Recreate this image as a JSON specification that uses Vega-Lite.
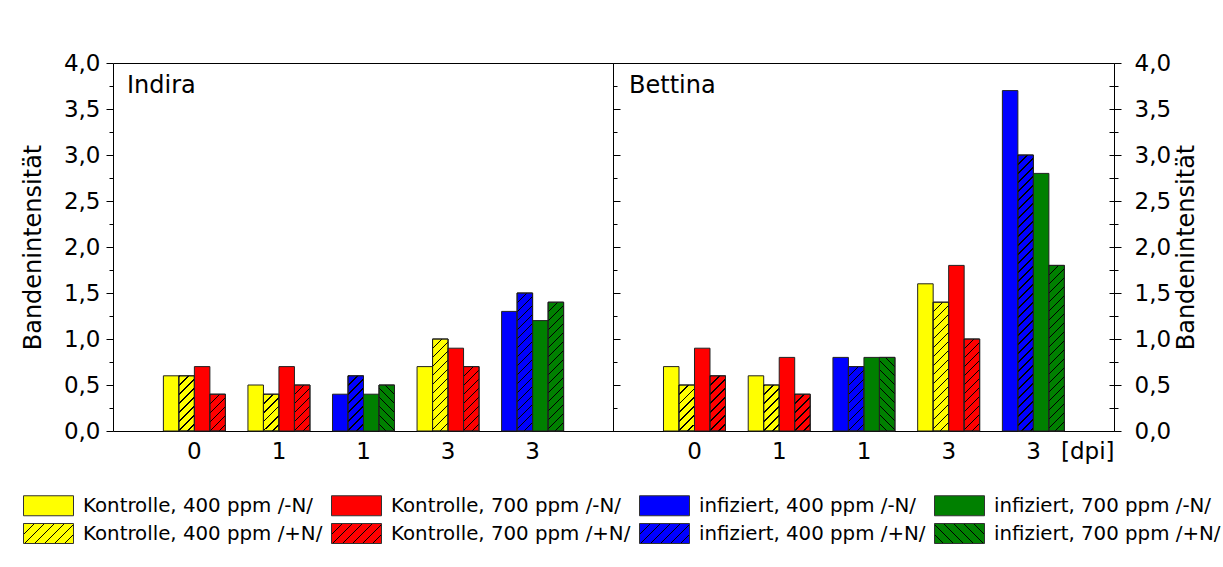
{
  "$schema": "https://vega.github.io/schema/vega-lite/v6.json",
  "background": "white",
  "padding": {"left": 20, "top": 51, "right": 0, "bottom": 0},
  "spacing": 0,
  "bounds": "flush",
  "config": {
    "font": "DejaVu Sans",
    "view": {"stroke": "#000", "strokeWidth": 1},
    "axis": {"labelFontSize": 23, "titleFontSize": 24, "titleFontWeight": "normal", "labelColor": "#000", "titleColor": "#000", "tickColor": "#000", "domainColor": "#000", "grid": false, "labelOverlap": false, "labelFlush": false},
    "title": {"fontSize": 24, "fontWeight": "normal", "color": "#000"}
  },
  "params": [
    {"name": "hatchStops", "value": [
      {"offset":0,"color":"#000"},{"offset":0.0042,"color":"#000"},{"offset":0.0042,"color":"rgba(0,0,0,0)"},{"offset":0.0278,"color":"rgba(0,0,0,0)"},
      {"offset":0.0278,"color":"#000"},{"offset":0.032,"color":"#000"},{"offset":0.032,"color":"rgba(0,0,0,0)"},{"offset":0.0556,"color":"rgba(0,0,0,0)"},
      {"offset":0.0556,"color":"#000"},{"offset":0.0598,"color":"#000"},{"offset":0.0598,"color":"rgba(0,0,0,0)"},{"offset":0.0833,"color":"rgba(0,0,0,0)"},
      {"offset":0.0833,"color":"#000"},{"offset":0.0875,"color":"#000"},{"offset":0.0875,"color":"rgba(0,0,0,0)"},{"offset":0.1111,"color":"rgba(0,0,0,0)"},
      {"offset":0.1111,"color":"#000"},{"offset":0.1153,"color":"#000"},{"offset":0.1153,"color":"rgba(0,0,0,0)"},{"offset":0.1389,"color":"rgba(0,0,0,0)"},
      {"offset":0.1389,"color":"#000"},{"offset":0.1431,"color":"#000"},{"offset":0.1431,"color":"rgba(0,0,0,0)"},{"offset":0.1667,"color":"rgba(0,0,0,0)"},
      {"offset":0.1667,"color":"#000"},{"offset":0.1709,"color":"#000"},{"offset":0.1709,"color":"rgba(0,0,0,0)"},{"offset":0.1944,"color":"rgba(0,0,0,0)"},
      {"offset":0.1944,"color":"#000"},{"offset":0.1986,"color":"#000"},{"offset":0.1986,"color":"rgba(0,0,0,0)"},{"offset":0.2222,"color":"rgba(0,0,0,0)"},
      {"offset":0.2222,"color":"#000"},{"offset":0.2264,"color":"#000"},{"offset":0.2264,"color":"rgba(0,0,0,0)"},{"offset":0.25,"color":"rgba(0,0,0,0)"},
      {"offset":0.25,"color":"#000"},{"offset":0.2542,"color":"#000"},{"offset":0.2542,"color":"rgba(0,0,0,0)"},{"offset":0.2778,"color":"rgba(0,0,0,0)"},
      {"offset":0.2778,"color":"#000"},{"offset":0.282,"color":"#000"},{"offset":0.282,"color":"rgba(0,0,0,0)"},{"offset":0.3056,"color":"rgba(0,0,0,0)"},
      {"offset":0.3056,"color":"#000"},{"offset":0.3098,"color":"#000"},{"offset":0.3098,"color":"rgba(0,0,0,0)"},{"offset":0.3333,"color":"rgba(0,0,0,0)"},
      {"offset":0.3333,"color":"#000"},{"offset":0.3375,"color":"#000"},{"offset":0.3375,"color":"rgba(0,0,0,0)"},{"offset":0.3611,"color":"rgba(0,0,0,0)"},
      {"offset":0.3611,"color":"#000"},{"offset":0.3653,"color":"#000"},{"offset":0.3653,"color":"rgba(0,0,0,0)"},{"offset":0.3889,"color":"rgba(0,0,0,0)"},
      {"offset":0.3889,"color":"#000"},{"offset":0.3931,"color":"#000"},{"offset":0.3931,"color":"rgba(0,0,0,0)"},{"offset":0.4167,"color":"rgba(0,0,0,0)"},
      {"offset":0.4167,"color":"#000"},{"offset":0.4209,"color":"#000"},{"offset":0.4209,"color":"rgba(0,0,0,0)"},{"offset":0.4444,"color":"rgba(0,0,0,0)"},
      {"offset":0.4444,"color":"#000"},{"offset":0.4486,"color":"#000"},{"offset":0.4486,"color":"rgba(0,0,0,0)"},{"offset":0.4722,"color":"rgba(0,0,0,0)"},
      {"offset":0.4722,"color":"#000"},{"offset":0.4764,"color":"#000"},{"offset":0.4764,"color":"rgba(0,0,0,0)"},{"offset":0.5,"color":"rgba(0,0,0,0)"},
      {"offset":0.5,"color":"#000"},{"offset":0.5042,"color":"#000"},{"offset":0.5042,"color":"rgba(0,0,0,0)"},{"offset":0.5278,"color":"rgba(0,0,0,0)"},
      {"offset":0.5278,"color":"#000"},{"offset":0.532,"color":"#000"},{"offset":0.532,"color":"rgba(0,0,0,0)"},{"offset":0.5556,"color":"rgba(0,0,0,0)"},
      {"offset":0.5556,"color":"#000"},{"offset":0.5598,"color":"#000"},{"offset":0.5598,"color":"rgba(0,0,0,0)"},{"offset":0.5833,"color":"rgba(0,0,0,0)"},
      {"offset":0.5833,"color":"#000"},{"offset":0.5875,"color":"#000"},{"offset":0.5875,"color":"rgba(0,0,0,0)"},{"offset":0.6111,"color":"rgba(0,0,0,0)"},
      {"offset":0.6111,"color":"#000"},{"offset":0.6153,"color":"#000"},{"offset":0.6153,"color":"rgba(0,0,0,0)"},{"offset":0.6389,"color":"rgba(0,0,0,0)"},
      {"offset":0.6389,"color":"#000"},{"offset":0.6431,"color":"#000"},{"offset":0.6431,"color":"rgba(0,0,0,0)"},{"offset":0.6667,"color":"rgba(0,0,0,0)"},
      {"offset":0.6667,"color":"#000"},{"offset":0.6709,"color":"#000"},{"offset":0.6709,"color":"rgba(0,0,0,0)"},{"offset":0.6944,"color":"rgba(0,0,0,0)"},
      {"offset":0.6944,"color":"#000"},{"offset":0.6986,"color":"#000"},{"offset":0.6986,"color":"rgba(0,0,0,0)"},{"offset":0.7222,"color":"rgba(0,0,0,0)"},
      {"offset":0.7222,"color":"#000"},{"offset":0.7264,"color":"#000"},{"offset":0.7264,"color":"rgba(0,0,0,0)"},{"offset":0.75,"color":"rgba(0,0,0,0)"},
      {"offset":0.75,"color":"#000"},{"offset":0.7542,"color":"#000"},{"offset":0.7542,"color":"rgba(0,0,0,0)"},{"offset":0.7778,"color":"rgba(0,0,0,0)"},
      {"offset":0.7778,"color":"#000"},{"offset":0.782,"color":"#000"},{"offset":0.782,"color":"rgba(0,0,0,0)"},{"offset":0.8056,"color":"rgba(0,0,0,0)"},
      {"offset":0.8056,"color":"#000"},{"offset":0.8098,"color":"#000"},{"offset":0.8098,"color":"rgba(0,0,0,0)"},{"offset":0.8333,"color":"rgba(0,0,0,0)"},
      {"offset":0.8333,"color":"#000"},{"offset":0.8375,"color":"#000"},{"offset":0.8375,"color":"rgba(0,0,0,0)"},{"offset":0.8611,"color":"rgba(0,0,0,0)"},
      {"offset":0.8611,"color":"#000"},{"offset":0.8653,"color":"#000"},{"offset":0.8653,"color":"rgba(0,0,0,0)"},{"offset":0.8889,"color":"rgba(0,0,0,0)"},
      {"offset":0.8889,"color":"#000"},{"offset":0.8931,"color":"#000"},{"offset":0.8931,"color":"rgba(0,0,0,0)"},{"offset":0.9167,"color":"rgba(0,0,0,0)"},
      {"offset":0.9167,"color":"#000"},{"offset":0.9209,"color":"#000"},{"offset":0.9209,"color":"rgba(0,0,0,0)"},{"offset":0.9444,"color":"rgba(0,0,0,0)"},
      {"offset":0.9444,"color":"#000"},{"offset":0.9486,"color":"#000"},{"offset":0.9486,"color":"rgba(0,0,0,0)"},{"offset":0.9722,"color":"rgba(0,0,0,0)"},
      {"offset":0.9722,"color":"#000"},{"offset":0.9764,"color":"#000"},{"offset":0.9764,"color":"rgba(0,0,0,0)"},{"offset":1,"color":"rgba(0,0,0,0)"}
    ]},
    {"name": "legY", "value": {"gradient":"linear","x1":0,"y1":0,"x2":1.38,"y2":0.552,"stops":[
      {"offset":0,"color":"#000"},{"offset":0.019,"color":"#000"},{"offset":0.019,"color":"#ffff00"},{"offset":0.125,"color":"#ffff00"},
      {"offset":0.125,"color":"#000"},{"offset":0.144,"color":"#000"},{"offset":0.144,"color":"#ffff00"},{"offset":0.25,"color":"#ffff00"},
      {"offset":0.25,"color":"#000"},{"offset":0.269,"color":"#000"},{"offset":0.269,"color":"#ffff00"},{"offset":0.375,"color":"#ffff00"},
      {"offset":0.375,"color":"#000"},{"offset":0.394,"color":"#000"},{"offset":0.394,"color":"#ffff00"},{"offset":0.5,"color":"#ffff00"},
      {"offset":0.5,"color":"#000"},{"offset":0.519,"color":"#000"},{"offset":0.519,"color":"#ffff00"},{"offset":0.625,"color":"#ffff00"},
      {"offset":0.625,"color":"#000"},{"offset":0.644,"color":"#000"},{"offset":0.644,"color":"#ffff00"},{"offset":0.75,"color":"#ffff00"},
      {"offset":0.75,"color":"#000"},{"offset":0.769,"color":"#000"},{"offset":0.769,"color":"#ffff00"},{"offset":0.875,"color":"#ffff00"},
      {"offset":0.875,"color":"#000"},{"offset":0.894,"color":"#000"},{"offset":0.894,"color":"#ffff00"},{"offset":1,"color":"#ffff00"}]}},
    {"name": "legR", "value": {"gradient":"linear","x1":0,"y1":0,"x2":1.38,"y2":0.552,"stops":[
      {"offset":0,"color":"#000"},{"offset":0.019,"color":"#000"},{"offset":0.019,"color":"#ff0000"},{"offset":0.125,"color":"#ff0000"},
      {"offset":0.125,"color":"#000"},{"offset":0.144,"color":"#000"},{"offset":0.144,"color":"#ff0000"},{"offset":0.25,"color":"#ff0000"},
      {"offset":0.25,"color":"#000"},{"offset":0.269,"color":"#000"},{"offset":0.269,"color":"#ff0000"},{"offset":0.375,"color":"#ff0000"},
      {"offset":0.375,"color":"#000"},{"offset":0.394,"color":"#000"},{"offset":0.394,"color":"#ff0000"},{"offset":0.5,"color":"#ff0000"},
      {"offset":0.5,"color":"#000"},{"offset":0.519,"color":"#000"},{"offset":0.519,"color":"#ff0000"},{"offset":0.625,"color":"#ff0000"},
      {"offset":0.625,"color":"#000"},{"offset":0.644,"color":"#000"},{"offset":0.644,"color":"#ff0000"},{"offset":0.75,"color":"#ff0000"},
      {"offset":0.75,"color":"#000"},{"offset":0.769,"color":"#000"},{"offset":0.769,"color":"#ff0000"},{"offset":0.875,"color":"#ff0000"},
      {"offset":0.875,"color":"#000"},{"offset":0.894,"color":"#000"},{"offset":0.894,"color":"#ff0000"},{"offset":1,"color":"#ff0000"}]}},
    {"name": "legB", "value": {"gradient":"linear","x1":0,"y1":0,"x2":1.38,"y2":0.552,"stops":[
      {"offset":0,"color":"#000"},{"offset":0.019,"color":"#000"},{"offset":0.019,"color":"#0000ff"},{"offset":0.125,"color":"#0000ff"},
      {"offset":0.125,"color":"#000"},{"offset":0.144,"color":"#000"},{"offset":0.144,"color":"#0000ff"},{"offset":0.25,"color":"#0000ff"},
      {"offset":0.25,"color":"#000"},{"offset":0.269,"color":"#000"},{"offset":0.269,"color":"#0000ff"},{"offset":0.375,"color":"#0000ff"},
      {"offset":0.375,"color":"#000"},{"offset":0.394,"color":"#000"},{"offset":0.394,"color":"#0000ff"},{"offset":0.5,"color":"#0000ff"},
      {"offset":0.5,"color":"#000"},{"offset":0.519,"color":"#000"},{"offset":0.519,"color":"#0000ff"},{"offset":0.625,"color":"#0000ff"},
      {"offset":0.625,"color":"#000"},{"offset":0.644,"color":"#000"},{"offset":0.644,"color":"#0000ff"},{"offset":0.75,"color":"#0000ff"},
      {"offset":0.75,"color":"#000"},{"offset":0.769,"color":"#000"},{"offset":0.769,"color":"#0000ff"},{"offset":0.875,"color":"#0000ff"},
      {"offset":0.875,"color":"#000"},{"offset":0.894,"color":"#000"},{"offset":0.894,"color":"#0000ff"},{"offset":1,"color":"#0000ff"}]}},
    {"name": "legG", "value": {"gradient":"linear","x1":1,"y1":0,"x2":-0.38,"y2":0.552,"stops":[
      {"offset":0,"color":"#000"},{"offset":0.019,"color":"#000"},{"offset":0.019,"color":"#008000"},{"offset":0.125,"color":"#008000"},
      {"offset":0.125,"color":"#000"},{"offset":0.144,"color":"#000"},{"offset":0.144,"color":"#008000"},{"offset":0.25,"color":"#008000"},
      {"offset":0.25,"color":"#000"},{"offset":0.269,"color":"#000"},{"offset":0.269,"color":"#008000"},{"offset":0.375,"color":"#008000"},
      {"offset":0.375,"color":"#000"},{"offset":0.394,"color":"#000"},{"offset":0.394,"color":"#008000"},{"offset":0.5,"color":"#008000"},
      {"offset":0.5,"color":"#000"},{"offset":0.519,"color":"#000"},{"offset":0.519,"color":"#008000"},{"offset":0.625,"color":"#008000"},
      {"offset":0.625,"color":"#000"},{"offset":0.644,"color":"#000"},{"offset":0.644,"color":"#008000"},{"offset":0.75,"color":"#008000"},
      {"offset":0.75,"color":"#000"},{"offset":0.769,"color":"#000"},{"offset":0.769,"color":"#008000"},{"offset":0.875,"color":"#008000"},
      {"offset":0.875,"color":"#000"},{"offset":0.894,"color":"#000"},{"offset":0.894,"color":"#008000"},{"offset":1,"color":"#008000"}]}}
  ],
  "data": {"values": [
    {"sorte":"Indira","dpi":"0","behandlung":"Kontrolle","gruppe":"0 Kontrolle","ppm":"400","N":"-N","variante":"400 -N","serie":"Kontrolle, 400 ppm /-N/","wert":0.6},
    {"sorte":"Indira","dpi":"0","behandlung":"Kontrolle","gruppe":"0 Kontrolle","ppm":"400","N":"+N","variante":"400 +N","serie":"Kontrolle, 400 ppm /+N/","wert":0.6},
    {"sorte":"Indira","dpi":"0","behandlung":"Kontrolle","gruppe":"0 Kontrolle","ppm":"700","N":"-N","variante":"700 -N","serie":"Kontrolle, 700 ppm /-N/","wert":0.7},
    {"sorte":"Indira","dpi":"0","behandlung":"Kontrolle","gruppe":"0 Kontrolle","ppm":"700","N":"+N","variante":"700 +N","serie":"Kontrolle, 700 ppm /+N/","wert":0.4},
    {"sorte":"Indira","dpi":"1","behandlung":"Kontrolle","gruppe":"1 Kontrolle","ppm":"400","N":"-N","variante":"400 -N","serie":"Kontrolle, 400 ppm /-N/","wert":0.5},
    {"sorte":"Indira","dpi":"1","behandlung":"Kontrolle","gruppe":"1 Kontrolle","ppm":"400","N":"+N","variante":"400 +N","serie":"Kontrolle, 400 ppm /+N/","wert":0.4},
    {"sorte":"Indira","dpi":"1","behandlung":"Kontrolle","gruppe":"1 Kontrolle","ppm":"700","N":"-N","variante":"700 -N","serie":"Kontrolle, 700 ppm /-N/","wert":0.7},
    {"sorte":"Indira","dpi":"1","behandlung":"Kontrolle","gruppe":"1 Kontrolle","ppm":"700","N":"+N","variante":"700 +N","serie":"Kontrolle, 700 ppm /+N/","wert":0.5},
    {"sorte":"Indira","dpi":"1","behandlung":"infiziert","gruppe":"1 infiziert","ppm":"400","N":"-N","variante":"400 -N","serie":"infiziert, 400 ppm /-N/","wert":0.4},
    {"sorte":"Indira","dpi":"1","behandlung":"infiziert","gruppe":"1 infiziert","ppm":"400","N":"+N","variante":"400 +N","serie":"infiziert, 400 ppm /+N/","wert":0.6},
    {"sorte":"Indira","dpi":"1","behandlung":"infiziert","gruppe":"1 infiziert","ppm":"700","N":"-N","variante":"700 -N","serie":"infiziert, 700 ppm /-N/","wert":0.4},
    {"sorte":"Indira","dpi":"1","behandlung":"infiziert","gruppe":"1 infiziert","ppm":"700","N":"+N","variante":"700 +N","serie":"infiziert, 700 ppm /+N/","wert":0.5},
    {"sorte":"Indira","dpi":"3","behandlung":"Kontrolle","gruppe":"3 Kontrolle","ppm":"400","N":"-N","variante":"400 -N","serie":"Kontrolle, 400 ppm /-N/","wert":0.7},
    {"sorte":"Indira","dpi":"3","behandlung":"Kontrolle","gruppe":"3 Kontrolle","ppm":"400","N":"+N","variante":"400 +N","serie":"Kontrolle, 400 ppm /+N/","wert":1.0},
    {"sorte":"Indira","dpi":"3","behandlung":"Kontrolle","gruppe":"3 Kontrolle","ppm":"700","N":"-N","variante":"700 -N","serie":"Kontrolle, 700 ppm /-N/","wert":0.9},
    {"sorte":"Indira","dpi":"3","behandlung":"Kontrolle","gruppe":"3 Kontrolle","ppm":"700","N":"+N","variante":"700 +N","serie":"Kontrolle, 700 ppm /+N/","wert":0.7},
    {"sorte":"Indira","dpi":"3","behandlung":"infiziert","gruppe":"3 infiziert","ppm":"400","N":"-N","variante":"400 -N","serie":"infiziert, 400 ppm /-N/","wert":1.3},
    {"sorte":"Indira","dpi":"3","behandlung":"infiziert","gruppe":"3 infiziert","ppm":"400","N":"+N","variante":"400 +N","serie":"infiziert, 400 ppm /+N/","wert":1.5},
    {"sorte":"Indira","dpi":"3","behandlung":"infiziert","gruppe":"3 infiziert","ppm":"700","N":"-N","variante":"700 -N","serie":"infiziert, 700 ppm /-N/","wert":1.2},
    {"sorte":"Indira","dpi":"3","behandlung":"infiziert","gruppe":"3 infiziert","ppm":"700","N":"+N","variante":"700 +N","serie":"infiziert, 700 ppm /+N/","wert":1.4},
    {"sorte":"Bettina","dpi":"0","behandlung":"Kontrolle","gruppe":"0 Kontrolle","ppm":"400","N":"-N","variante":"400 -N","serie":"Kontrolle, 400 ppm /-N/","wert":0.7},
    {"sorte":"Bettina","dpi":"0","behandlung":"Kontrolle","gruppe":"0 Kontrolle","ppm":"400","N":"+N","variante":"400 +N","serie":"Kontrolle, 400 ppm /+N/","wert":0.5},
    {"sorte":"Bettina","dpi":"0","behandlung":"Kontrolle","gruppe":"0 Kontrolle","ppm":"700","N":"-N","variante":"700 -N","serie":"Kontrolle, 700 ppm /-N/","wert":0.9},
    {"sorte":"Bettina","dpi":"0","behandlung":"Kontrolle","gruppe":"0 Kontrolle","ppm":"700","N":"+N","variante":"700 +N","serie":"Kontrolle, 700 ppm /+N/","wert":0.6},
    {"sorte":"Bettina","dpi":"1","behandlung":"Kontrolle","gruppe":"1 Kontrolle","ppm":"400","N":"-N","variante":"400 -N","serie":"Kontrolle, 400 ppm /-N/","wert":0.6},
    {"sorte":"Bettina","dpi":"1","behandlung":"Kontrolle","gruppe":"1 Kontrolle","ppm":"400","N":"+N","variante":"400 +N","serie":"Kontrolle, 400 ppm /+N/","wert":0.5},
    {"sorte":"Bettina","dpi":"1","behandlung":"Kontrolle","gruppe":"1 Kontrolle","ppm":"700","N":"-N","variante":"700 -N","serie":"Kontrolle, 700 ppm /-N/","wert":0.8},
    {"sorte":"Bettina","dpi":"1","behandlung":"Kontrolle","gruppe":"1 Kontrolle","ppm":"700","N":"+N","variante":"700 +N","serie":"Kontrolle, 700 ppm /+N/","wert":0.4},
    {"sorte":"Bettina","dpi":"1","behandlung":"infiziert","gruppe":"1 infiziert","ppm":"400","N":"-N","variante":"400 -N","serie":"infiziert, 400 ppm /-N/","wert":0.8},
    {"sorte":"Bettina","dpi":"1","behandlung":"infiziert","gruppe":"1 infiziert","ppm":"400","N":"+N","variante":"400 +N","serie":"infiziert, 400 ppm /+N/","wert":0.7},
    {"sorte":"Bettina","dpi":"1","behandlung":"infiziert","gruppe":"1 infiziert","ppm":"700","N":"-N","variante":"700 -N","serie":"infiziert, 700 ppm /-N/","wert":0.8},
    {"sorte":"Bettina","dpi":"1","behandlung":"infiziert","gruppe":"1 infiziert","ppm":"700","N":"+N","variante":"700 +N","serie":"infiziert, 700 ppm /+N/","wert":0.8},
    {"sorte":"Bettina","dpi":"3","behandlung":"Kontrolle","gruppe":"3 Kontrolle","ppm":"400","N":"-N","variante":"400 -N","serie":"Kontrolle, 400 ppm /-N/","wert":1.6},
    {"sorte":"Bettina","dpi":"3","behandlung":"Kontrolle","gruppe":"3 Kontrolle","ppm":"400","N":"+N","variante":"400 +N","serie":"Kontrolle, 400 ppm /+N/","wert":1.4},
    {"sorte":"Bettina","dpi":"3","behandlung":"Kontrolle","gruppe":"3 Kontrolle","ppm":"700","N":"-N","variante":"700 -N","serie":"Kontrolle, 700 ppm /-N/","wert":1.8},
    {"sorte":"Bettina","dpi":"3","behandlung":"Kontrolle","gruppe":"3 Kontrolle","ppm":"700","N":"+N","variante":"700 +N","serie":"Kontrolle, 700 ppm /+N/","wert":1.0},
    {"sorte":"Bettina","dpi":"3","behandlung":"infiziert","gruppe":"3 infiziert","ppm":"400","N":"-N","variante":"400 -N","serie":"infiziert, 400 ppm /-N/","wert":3.7},
    {"sorte":"Bettina","dpi":"3","behandlung":"infiziert","gruppe":"3 infiziert","ppm":"400","N":"+N","variante":"400 +N","serie":"infiziert, 400 ppm /+N/","wert":3.0},
    {"sorte":"Bettina","dpi":"3","behandlung":"infiziert","gruppe":"3 infiziert","ppm":"700","N":"-N","variante":"700 -N","serie":"infiziert, 700 ppm /-N/","wert":2.8},
    {"sorte":"Bettina","dpi":"3","behandlung":"infiziert","gruppe":"3 infiziert","ppm":"700","N":"+N","variante":"700 +N","serie":"infiziert, 700 ppm /+N/","wert":1.8}
  ]},
  "hconcat": [
    {
      "width": 500, "height": 368,
      "title": {"text": "Indira", "anchor": "start", "frame": "group", "baseline": "top", "offset": 0, "dx": 14, "dy": 46},
      "transform": [{"filter": "datum.sorte == 'Indira'"}],
      "layer": [
        {
          "mark": {"type": "bar", "stroke": "#222", "strokeWidth": 1},
          "encoding": {
            "x": {"field": "gruppe", "type": "nominal", "sort": ["0 Kontrolle","1 Kontrolle","1 infiziert","3 Kontrolle","3 infiziert"], "scale": {"paddingInner": 0.2667, "paddingOuter": 0.59, "align": 0.505}, "axis": {"title": null, "labelExpr": "split(datum.value, ' ')[0]", "ticks": false, "labelPadding": 9, "labelAngle": 0, "domain": false}},
            "xOffset": {"field": "variante", "type": "nominal", "sort": ["400 -N","400 +N","700 -N","700 +N"], "scale": {"paddingInner": 0, "paddingOuter": 0}},
            "y": {"field": "wert", "type": "quantitative", "scale": {"domain": [0, 4], "nice": false}, "axis": {"orient": "left", "values": [0,0.25,0.5,0.75,1,1.25,1.5,1.75,2,2.25,2.5,2.75,3,3.25,3.5,3.75,4], "labelExpr": "datum.value % 0.5 == 0 ? replace(format(datum.value, '.1f'), '.', ',') : ''", "tickSize": {"condition": {"test": "datum.value % 0.5 == 0", "value": 7}, "value": 4}, "labelPadding": 6, "title": "Bandenintensität", "titlePadding": 18, "domain": false}},
            "fill": {"field": "serie", "type": "nominal",
              "scale": {"domain": ["Kontrolle, 400 ppm /-N/","Kontrolle, 400 ppm /+N/","Kontrolle, 700 ppm /-N/","Kontrolle, 700 ppm /+N/","infiziert, 400 ppm /-N/","infiziert, 400 ppm /+N/","infiziert, 700 ppm /-N/","infiziert, 700 ppm /+N/"], "range": ["#ffff00","#ffff00","#ff0000","#ff0000","#0000ff","#0000ff","#008000","#008000"]},
              "legend": null}
          }
        },
        {
          "transform": [{"filter": "datum.N == '+N'"}],
          "mark": {"type": "bar", "stroke": "#222", "strokeWidth": 1, "fill": {"expr": "datum.behandlung == 'infiziert' && datum.ppm == '700' && datum.dpi == '1' ? {gradient: 'linear', x1: 1, y1: 0, x2: 1 - 5022/(240.25 + 8464*datum.wert*datum.wert), y2: 29808*datum.wert/(240.25 + 8464*datum.wert*datum.wert), stops: hatchStops} : {gradient: 'linear', x1: 0, y1: 0, x2: 5022/(240.25 + 8464*datum.wert*datum.wert), y2: 29808*datum.wert/(240.25 + 8464*datum.wert*datum.wert), stops: hatchStops}"}},
          "encoding": {
            "x": {"field": "gruppe", "type": "nominal", "sort": ["0 Kontrolle","1 Kontrolle","1 infiziert","3 Kontrolle","3 infiziert"]},
            "xOffset": {"field": "variante", "type": "nominal", "sort": ["400 -N","400 +N","700 -N","700 +N"]},
            "y": {"field": "wert", "type": "quantitative", "axis": {"orient": "right", "values": [0,0.25,0.5,0.75,1,1.25,1.5,1.75,2,2.25,2.5,2.75,3,3.25,3.5,3.75,4], "labels": false, "title": null, "domain": false, "tickSize": {"condition": {"test": "datum.value % 0.5 == 0", "value": 7}, "value": 4}}}
          }
        },
        {
          "mark": {"type": "bar", "opacity": 0},
          "encoding": {
            "x": {"field": "gruppe", "type": "nominal", "sort": ["0 Kontrolle","1 Kontrolle","1 infiziert","3 Kontrolle","3 infiziert"]},
            "xOffset": {"field": "variante", "type": "nominal", "sort": ["400 -N","400 +N","700 -N","700 +N"]},
            "y": {"field": "wert", "type": "quantitative", "axis": null},
            "color": {"field": "serie", "type": "nominal",
              "scale": {"domain": ["Kontrolle, 400 ppm /-N/","Kontrolle, 700 ppm /-N/","infiziert, 400 ppm /-N/","infiziert, 700 ppm /-N/","Kontrolle, 400 ppm /+N/","Kontrolle, 700 ppm /+N/","infiziert, 400 ppm /+N/","infiziert, 700 ppm /+N/"], "range": ["#ffff00","#ff0000","#0000ff","#008000",{"expr": "legY"},{"expr": "legR"},{"expr": "legB"},{"expr": "legG"}]},
              "legend": {"orient": "none", "legendX": -75, "legendY": 432, "direction": "horizontal", "columns": 4, "title": null, "symbolType": "M-2.5,-1H2.5V1H-2.5Z", "symbolSize": 400, "symbolOpacity": 1, "symbolStrokeColor": "#333", "symbolStrokeWidth": 1, "labelFontSize": 19.8, "labelColor": "#000", "labelLimit": 400, "labelOffset": 24, "columnPadding": 6, "rowPadding": 3}}
          }
        }
      ],
      "resolve": {"axis": {"y": "independent"}}
    },
    {
      "width": 501, "height": 368,
      "title": {"text": "Bettina", "anchor": "start", "frame": "group", "baseline": "top", "offset": 0, "dx": 16, "dy": 46},
      "transform": [{"filter": "datum.sorte == 'Bettina'"}],
      "layer": [
        {
          "mark": {"type": "bar", "stroke": "#222", "strokeWidth": 1},
          "encoding": {
            "x": {"field": "gruppe", "type": "nominal", "sort": ["0 Kontrolle","1 Kontrolle","1 infiziert","3 Kontrolle","3 infiziert"], "scale": {"paddingInner": 0.2667, "paddingOuter": 0.59, "align": 0.505}, "axis": {"title": "[dpi]", "titleAnchor": "end", "titleAlign": "right", "titleBaseline": "top", "titleX": 501, "titleY": 9, "titleFontSize": 23, "labelExpr": "split(datum.value, ' ')[0]", "ticks": false, "labelPadding": 9, "labelAngle": 0, "domain": false}},
            "xOffset": {"field": "variante", "type": "nominal", "sort": ["400 -N","400 +N","700 -N","700 +N"], "scale": {"paddingInner": 0, "paddingOuter": 0}},
            "y": {"field": "wert", "type": "quantitative", "scale": {"domain": [0, 4], "nice": false}, "axis": {"orient": "right", "values": [0,0.25,0.5,0.75,1,1.25,1.5,1.75,2,2.25,2.5,2.75,3,3.25,3.5,3.75,4], "labelExpr": "datum.value % 0.5 == 0 ? replace(format(datum.value, '.1f'), '.', ',') : ''", "tickSize": {"condition": {"test": "datum.value % 0.5 == 0", "value": 7}, "value": 4}, "labelPadding": 13, "title": "Bandenintensität", "titleAngle": 270, "titleBaseline": "top", "titlePadding": 4, "domain": false}},
            "fill": {"field": "serie", "type": "nominal", "legend": null}
          }
        },
        {
          "transform": [{"filter": "datum.N == '+N'"}],
          "mark": {"type": "bar", "stroke": "#222", "strokeWidth": 1, "fill": {"expr": "datum.behandlung == 'infiziert' && datum.ppm == '700' && datum.dpi == '1' ? {gradient: 'linear', x1: 1, y1: 0, x2: 1 - 5022/(240.25 + 8464*datum.wert*datum.wert), y2: 29808*datum.wert/(240.25 + 8464*datum.wert*datum.wert), stops: hatchStops} : {gradient: 'linear', x1: 0, y1: 0, x2: 5022/(240.25 + 8464*datum.wert*datum.wert), y2: 29808*datum.wert/(240.25 + 8464*datum.wert*datum.wert), stops: hatchStops}"}},
          "encoding": {
            "x": {"field": "gruppe", "type": "nominal", "sort": ["0 Kontrolle","1 Kontrolle","1 infiziert","3 Kontrolle","3 infiziert"]},
            "xOffset": {"field": "variante", "type": "nominal", "sort": ["400 -N","400 +N","700 -N","700 +N"]},
            "y": {"field": "wert", "type": "quantitative", "axis": {"orient": "right", "values": [0,0.25,0.5,0.75,1,1.25,1.5,1.75,2,2.25,2.5,2.75,3,3.25,3.5,3.75,4], "labels": false, "title": null, "domain": false, "tickSize": -5}}
          }
        }
      ],
      "resolve": {"axis": {"y": "independent"}}
    }
  ]
}
